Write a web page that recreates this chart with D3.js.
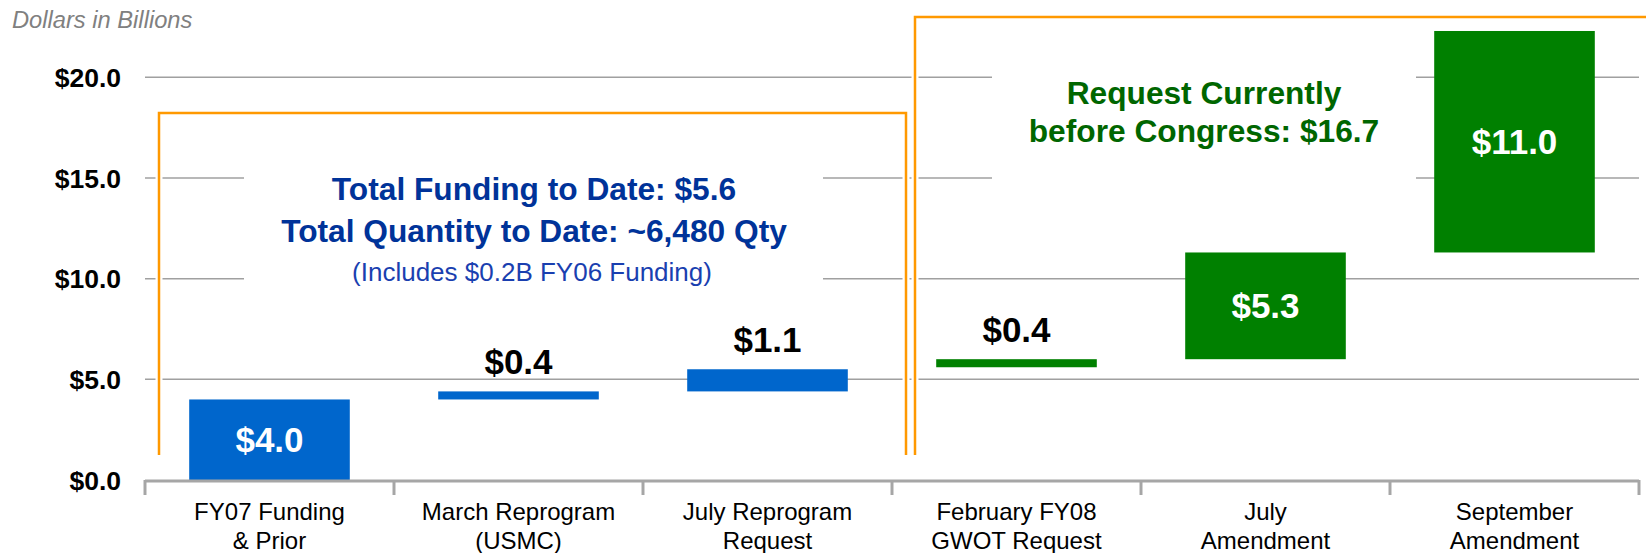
<!DOCTYPE html>
<html>
<head>
<meta charset="utf-8">
<script src="https://cdn.jsdelivr.net/npm/d3@7/dist/d3.min.js"></script>
<style>
  html, body { margin: 0; padding: 0; background: #fff; }
  svg { display: block; font-family: "Liberation Sans", Arial, sans-serif; }
</style>
</head>
<body>
<svg id="chart" width="1646" height="553"></svg>
<script>
// ---- data ----
const categories = ["FY07 Funding\n& Prior", "March Reprogram\n(USMC)", "July Reprogram\nRequest",
                    "February FY08\nGWOT Request", "July\nAmendment", "September\nAmendment"];
const bases  = [0, 4.0, 4.4, 5.6, 6.0, 11.3];
const values = [4.0, 0.4, 1.1, 0.4, 5.3, 11.0];
const barLabels = ["$4.0", "$0.4", "$1.1", "$0.4", "$5.3", "$11.0"];
const groups = ["funded", "funded", "funded", "request", "request", "request"];
const yTicks = [0, 5, 10, 15, 20];
const unitLabel = "Dollars in Billions";
const fundedText = ["Total Funding to Date: $5.6", "Total Quantity to Date: ~6,480 Qty"];
const fundedNote = "(Includes $0.2B FY06 Funding)";
const requestText = ["Request Currently", "before Congress: $16.7"];

// ---- layout ----
const svg = d3.select("#chart");
const colors = { funded: "#0066CC", request: "#008000" };

const x = d3.scaleBand().domain(categories).range([145, 1639])
  .paddingInner(0.355).paddingOuter(0.1775);
const y = d3.scaleLinear().domain([0, 20]).range([480, 77.3]);

// gridlines
svg.append("g").selectAll("line").data(yTicks.filter(d => d > 0)).join("line")
  .attr("x1", 145).attr("x2", 1639)
  .attr("y1", d => y(d)).attr("y2", d => y(d))
  .attr("stroke", "#A0A0A0").attr("stroke-width", 1.5);

// y labels
svg.append("g").selectAll("text").data(yTicks).join("text")
  .attr("x", 121).attr("y", d => y(d)).attr("dy", "0.36em")
  .attr("text-anchor", "end").attr("font-weight", "bold").attr("font-size", 26.5)
  .attr("fill", "#000").text(d => "$" + d.toFixed(1));

// unit label
svg.append("text").attr("x", 12).attr("y", 27.5)
  .attr("font-style", "italic").attr("font-size", 23.7).attr("fill", "#808080")
  .text(unitLabel);

// white backgrounds behind the callout texts (interrupt gridlines)
svg.append("rect").attr("x", 244).attr("y", y(17)).attr("width", 579).attr("height", y(7.5) - y(17)).attr("fill", "#fff");
svg.append("rect").attr("x", 992).attr("y", y(22)).attr("width", 424).attr("height", y(13) - y(22)).attr("fill", "#fff");

// orange brackets
const off = (x.step() - x.bandwidth()) / 2;
const b1 = [
  [x(categories[0]) - off + 14, y(1.24)],
  [x(categories[0]) - off + 14, 113],
  [x(categories[3]) - off + 14, 113],
  [x(categories[3]) - off + 14, y(1.24)]
];
const b2 = [
  [x(categories[3]) - off + 23, y(1.24)],
  [x(categories[3]) - off + 23, 17],
  [1646, 17]
];
const line = d3.line();
[b1, b2].forEach(pts => {
  svg.append("path").attr("d", line(pts)).attr("fill", "none")
    .attr("stroke", "#fff").attr("stroke-width", 7);
});
[b1, b2].forEach(pts => {
  svg.append("path").attr("d", line(pts)).attr("fill", "none")
    .attr("stroke", "#FF9900").attr("stroke-width", 2.5);
});

// bars
svg.append("g").selectAll("rect").data(categories).join("rect")
  .attr("x", d => x(d))
  .attr("width", x.bandwidth())
  .attr("y", (d, i) => y(bases[i] + values[i]))
  .attr("height", (d, i) => y(bases[i]) - y(bases[i] + values[i]))
  .attr("fill", (d, i) => colors[groups[i]]);

// bar labels
svg.append("g").selectAll("text").data(categories).join("text")
  .attr("x", d => x(d) + x.bandwidth() / 2)
  .attr("y", (d, i) => {
    const top = y(bases[i] + values[i]), bot = y(bases[i]);
    return (bot - top) > 50 ? (top + bot) / 2 + 12.5 : top - 17;
  })
  .attr("text-anchor", "middle").attr("font-weight", "bold").attr("font-size", 35)
  .attr("fill", (d, i) => (y(bases[i]) - y(bases[i] + values[i])) > 50 ? "#fff" : "#000")
  .text((d, i) => barLabels[i]);

// x axis line and ticks
svg.append("line").attr("x1", 145).attr("x2", 1639).attr("y1", 481).attr("y2", 481)
  .attr("stroke", "#A6A6A6").attr("stroke-width", 3);
const bounds = categories.map(c => x(c) - off).concat([x(categories[categories.length - 1]) + x.bandwidth() + off]);
svg.append("g").selectAll("line").data(bounds).join("line")
  .attr("x1", d => d).attr("x2", d => d).attr("y1", 480).attr("y2", 495)
  .attr("stroke", "#A6A6A6").attr("stroke-width", 3);

// category labels
const cat = svg.append("g").selectAll("text").data(categories).join("text")
  .attr("text-anchor", "middle").attr("font-size", 24).attr("fill", "#000");
cat.each(function(d) {
  const t = d3.select(this);
  d.split("\n").forEach((s, k) => {
    t.append("tspan").attr("x", x(d) + x.bandwidth() / 2).attr("y", 519.5 + k * 29).text(s);
  });
});

// callout texts
const c1 = svg.append("g").attr("text-anchor", "middle").attr("font-weight", "bold")
  .attr("font-size", 31.7).attr("fill", "#003399");
fundedText.forEach((s, k) => c1.append("text").attr("x", 534).attr("y", 199.5 + k * 42.3).text(s));
svg.append("text").attr("x", 532).attr("y", 281).attr("text-anchor", "middle")
  .attr("font-size", 26).attr("fill", "#1A3FB0").text(fundedNote);

const c2 = svg.append("g").attr("text-anchor", "middle").attr("font-weight", "bold")
  .attr("font-size", 31.7).attr("fill", "#006600");
requestText.forEach((s, k) => c2.append("text").attr("x", 1204).attr("y", 104 + k * 37.8).text(s));
</script>
</body>
</html>
